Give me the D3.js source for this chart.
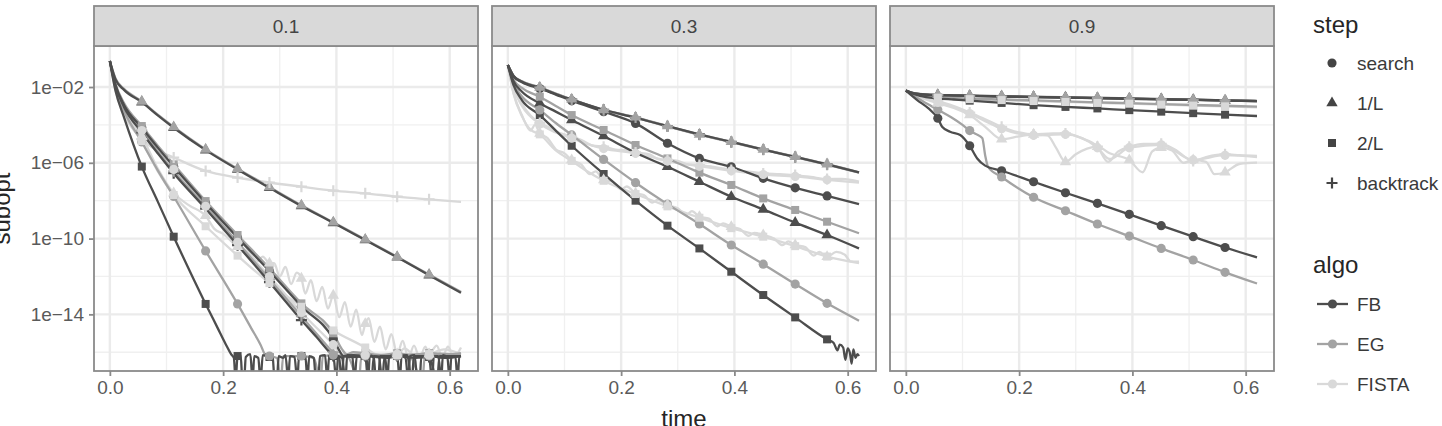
<!DOCTYPE html>
<html>
<head>
<meta charset="utf-8">
<script src="https://cdn.jsdelivr.net/npm/d3@7"></script>
<style>
  body { margin: 0; background: #fff; }
  svg text { font-family: "Liberation Sans", Arial, Helvetica, sans-serif; }
</style>
</head>
<body>
<div id="chart"></div>
<script>
// facets, legend levels, ticks
const FACETS = ["0.1", "0.3", "0.9"];
const ALGOS = ["FB", "EG", "FISTA"];
const STEPS = ["search", "1/L", "2/L", "backtrack"];
const ALGO_COLORS = ["#4d4d4d", "#a3a3a3", "#d9d9d9"];
const X_TICKS = [0, 0.2, 0.4, 0.6];
const X_MINOR = [0.1, 0.3, 0.5];
const Y_TICKS = [1e-2, 1e-6, 1e-10, 1e-14];
const Y_MINOR = [1e-4, 1e-8, 1e-12, 1e-16];

// common time grid, and times where a marker is drawn
const T_GRID = [0, 0.01, 0.025, 0.0564, 0.0846, 0.1127, 0.1691, 0.2255, 0.2818, 0.3382, 0.3945, 0.4509, 0.5073, 0.5636, 0.62];
const T_MARKS = [0.0564, 0.1127, 0.1691, 0.2255, 0.2818, 0.3382, 0.3945, 0.4509, 0.5073, 0.5636];

// values are log10(subopt); plain lists are on T_GRID, pair lists are [time, log10]
// ---- facet 0.1
const p1_FB_search = [[0,-0.63],[0.01,-1.9],[0.025,-2.95],[0.0564,-4.15],[0.0846,-5.2],[0.1127,-6.2],[0.1691,-8.12],[0.2255,-9.95],[0.2818,-11.72],[0.3382,-13.57],[0.3945,-15.3],[0.405,-15.9],[0.412,-16.2],[0.43,-16.25],[0.4509,-16.2],[0.462,-17.5],[0.466,-16.2],[0.49,-16.3],[0.5073,-16.2],[0.525,-16.15],[0.533,-17.5],[0.537,-16.2],[0.5636,-16.2],[0.59,-16.3],[0.62,-16.2]];
const p1_FB_1L = [-0.63, -1.6, -2.15, -2.8, -3.5, -4.15, -5.33, -6.35, -7.32, -8.28, -9.17, -10.08, -10.99, -11.93, -12.86];
const p1_FB_2L = [[0,-0.63],[0.01,-2.2],[0.025,-3.6],[0.0564,-6.2],[0.0846,-8.05],[0.1127,-9.9],[0.1691,-13.45],[0.19,-14.7],[0.205,-15.6],[0.214,-16.1],[0.219,-16.3],[0.222,-17.5],[0.2255,-16.2],[0.231,-16.15],[0.234,-17.5],[0.237,-17.5],[0.24,-16.25],[0.248,-16.1],[0.252,-17.5],[0.255,-16.2],[0.262,-16.3],[0.266,-17.5],[0.27,-16.15],[0.276,-16.2],[0.2818,-16.25],[0.287,-16.1],[0.291,-17.5],[0.295,-17.5],[0.298,-16.2],[0.306,-16.3],[0.31,-16.15],[0.315,-17.5],[0.318,-16.2],[0.326,-16.25],[0.331,-17.5],[0.334,-16.2],[0.3382,-16.2],[0.345,-16.15],[0.349,-17.5],[0.352,-16.2],[0.36,-16.3],[0.364,-17.5],[0.368,-17.5],[0.371,-16.2],[0.38,-16.15],[0.384,-17.5],[0.387,-16.25],[0.3945,-16.2],[0.4,-17.5],[0.403,-16.2],[0.41,-16.3],[0.416,-17.5],[0.419,-16.15],[0.428,-16.2],[0.432,-17.5],[0.436,-16.2],[0.444,-16.25],[0.4509,-16.2],[0.456,-17.5],[0.459,-16.15],[0.466,-16.3],[0.47,-17.5],[0.474,-17.5],[0.477,-16.2],[0.486,-16.2],[0.49,-17.5],[0.493,-16.25],[0.5,-16.15],[0.5073,-16.2],[0.512,-17.5],[0.515,-16.2],[0.522,-16.3],[0.527,-17.5],[0.53,-16.2],[0.538,-16.15],[0.543,-17.5],[0.547,-17.5],[0.55,-16.2],[0.5636,-16.25],[0.569,-17.5],[0.572,-16.2],[0.58,-16.2],[0.585,-17.5],[0.588,-16.15],[0.596,-16.3],[0.6,-17.5],[0.603,-16.2],[0.61,-16.2],[0.614,-17.5],[0.617,-16.2],[0.62,-16.2]];
const p1_FB_bt = [[0,-0.63],[0.01,-1.95],[0.025,-3.05],[0.0564,-4.4],[0.0846,-5.5],[0.1127,-6.55],[0.1691,-8.42],[0.2255,-10.35],[0.2818,-12.3],[0.3382,-14.3],[0.365,-15.2],[0.385,-15.9],[0.3945,-16.2],[0.405,-16.3],[0.409,-17.5],[0.413,-16.2],[0.43,-16.15],[0.4509,-16.2],[0.475,-16.25],[0.481,-17.5],[0.485,-16.2],[0.5073,-16.2],[0.54,-16.3],[0.5636,-16.25],[0.578,-17.5],[0.582,-16.2],[0.62,-16.2]];
const p1_EG_search = [[0,-0.63],[0.01,-2.05],[0.025,-3.25],[0.0564,-4.9],[0.0846,-6.4],[0.1127,-7.78],[0.1691,-10.65],[0.2255,-13.45],[0.25,-14.75],[0.266,-15.6],[0.275,-16.15],[0.2818,-16.2],[0.295,-16.3],[0.302,-17.5],[0.306,-16.2],[0.3382,-16.2],[0.36,-16.3],[0.372,-17.5],[0.376,-16.2],[0.3945,-16.15],[0.42,-16.25],[0.44,-17.5],[0.444,-16.2],[0.4509,-16.2],[0.48,-16.3],[0.5073,-16.2],[0.53,-16.25],[0.552,-17.5],[0.556,-16.2],[0.5636,-16.2],[0.59,-16.3],[0.62,-16.2]];
const p1_EG_1L = [-0.63, -1.55, -2.1, -2.76, -3.46, -4.11, -5.29, -6.31, -7.28, -8.24, -9.14, -10.05, -10.96, -11.9, -12.82];
const p1_EG_2L = [[0,-0.63],[0.01,-1.85],[0.025,-2.85],[0.0564,-4.06],[0.0846,-5.1],[0.1127,-6.08],[0.1691,-8.02],[0.2255,-9.81],[0.2818,-11.57],[0.3382,-13.42],[0.3945,-15.0],[0.41,-15.85],[0.418,-16.1],[0.43,-16.0],[0.4509,-16.05],[0.48,-16.15],[0.5073,-16.05],[0.53,-16.15],[0.5636,-16.05],[0.6,-16.1],[0.62,-16.05]];
const p1_EG_bt = [[0,-0.63],[0.01,-1.9],[0.025,-2.95],[0.0564,-4.3],[0.0846,-5.4],[0.1127,-6.45],[0.1691,-8.3],[0.2255,-10.2],[0.2818,-12.15],[0.3382,-14.1],[0.37,-15.2],[0.3945,-16.0],[0.402,-16.2],[0.4509,-16.1],[0.47,-16.2],[0.5073,-16.15],[0.5636,-16.1],[0.62,-16.15]];
const p1_FISTA_search = [[0,-0.63],[0.01,-1.95],[0.025,-3.0],[0.0564,-4.3],[0.0846,-5.35],[0.1127,-6.35],[0.1691,-8.3],[0.2255,-10.2],[0.2818,-12.0],[0.3382,-13.9],[0.3945,-15.6],[0.41,-16.1],[0.4509,-16.15],[0.5073,-16.1],[0.5636,-16.15],[0.62,-16.1]];
const p1_FISTA_1L = [[0,-0.63],[0.01,-2.1],[0.025,-3.3],[0.0564,-4.6],[0.0846,-6.3],[0.1127,-7.6],[0.14,-8.25],[0.1691,-8.8],[0.185,-9.5],[0.2,-9.75],[0.2255,-10.43],[0.245,-10.7],[0.26,-11.2],[0.27,-10.95],[0.2818,-11.3],[0.29,-11.3],[0.3,-12.0],[0.31,-11.5],[0.32,-12.4],[0.33,-11.8],[0.3382,-12.1],[0.345,-12.9],[0.355,-12.2],[0.365,-13.3],[0.375,-12.55],[0.385,-13.7],[0.3945,-13.0],[0.405,-14.15],[0.415,-13.35],[0.425,-14.65],[0.435,-13.75],[0.445,-15.1],[0.4509,-14.5],[0.457,-14.2],[0.467,-15.45],[0.477,-14.65],[0.487,-15.85],[0.497,-15.05],[0.5073,-16.1],[0.517,-15.4],[0.527,-16.3],[0.537,-15.65],[0.547,-16.3],[0.557,-15.7],[0.5636,-16.1],[0.577,-15.65],[0.587,-16.25],[0.597,-15.7],[0.607,-16.25],[0.62,-15.75]];
const p1_FISTA_2L = [[0,-0.63],[0.01,-2.2],[0.025,-3.45],[0.0564,-4.85],[0.0846,-6.45],[0.1127,-7.7],[0.1691,-9.35],[0.2255,-10.9],[0.2818,-12.35],[0.3382,-13.6],[0.3945,-14.85],[0.4509,-15.75],[0.47,-16.1],[0.5073,-16.15],[0.52,-15.8],[0.54,-16.2],[0.5636,-16.1],[0.59,-15.85],[0.62,-16.1]];
const p1_FISTA_bt = [-0.63, -2.0, -3.3, -4.75, -5.35, -5.72, -6.43, -6.78, -7.04, -7.26, -7.47, -7.61, -7.79, -7.93, -8.06];

// ---- facet 0.3
const p2_FB_search = [-0.84, -1.43, -1.75, -2.08, -2.4, -2.72, -3.3, -3.92, -4.97, -5.77, -6.21, -6.82, -7.32, -7.75, -8.18];
const p2_FB_1L = [-0.84, -1.7, -2.25, -2.86, -3.3, -3.74, -4.59, -5.47, -6.21, -7.0, -7.79, -8.46, -9.16, -9.81, -10.52];
const p2_FB_2L = [[0,-0.84],[0.01,-1.9],[0.025,-2.7],[0.0564,-3.48],[0.0846,-4.3],[0.1127,-5.1],[0.1691,-6.59],[0.2255,-8.0],[0.2818,-9.32],[0.3382,-10.52],[0.3945,-11.75],[0.4509,-12.98],[0.5073,-14.16],[0.5636,-15.32],[0.575,-15.5],[0.582,-15.9],[0.586,-15.6],[0.592,-15.75],[0.596,-16.4],[0.6,-15.8],[0.604,-16.05],[0.607,-16.6],[0.61,-15.85],[0.614,-16.3],[0.617,-16.1],[0.62,-16.2]];
const p2_FB_bt = [-0.84, -1.42, -1.72, -2.04, -2.37, -2.67, -3.2, -3.62, -4.07, -4.5, -4.9, -5.3, -5.69, -6.08, -6.5];
const p2_EG_search = [-0.84, -1.8, -2.5, -3.21, -3.9, -4.53, -5.82, -7.05, -8.18, -9.23, -10.34, -11.35, -12.4, -13.42, -14.34];
const p2_EG_1L = [-0.84, -1.4, -1.7, -2.02, -2.35, -2.65, -3.21, -3.6, -4.06, -4.5, -4.89, -5.29, -5.68, -6.07, -6.5];
const p2_EG_2L = [-0.84, -1.6, -2.05, -2.51, -3.0, -3.48, -4.27, -5.06, -5.77, -6.52, -7.17, -7.88, -8.49, -9.11, -9.72];
const p2_EG_bt = [-0.84, -1.41, -1.71, -2.03, -2.36, -2.66, -3.22, -3.61, -4.08, -4.52, -4.91, -5.31, -5.7, -6.1, -6.52];
const p2_FISTA_search = [[0,-0.84],[0.01,-2.05],[0.025,-3.0],[0.0564,-3.95],[0.0846,-4.4],[0.1127,-4.7],[0.14,-5.0],[0.1691,-5.25],[0.2255,-5.5],[0.2818,-5.9],[0.3382,-6.18],[0.3945,-6.42],[0.4509,-6.62],[0.5073,-6.72],[0.5636,-6.9],[0.62,-7.05]];
const p2_FISTA_1L = [[0,-0.84],[0.01,-2.3],[0.025,-3.5],[0.04,-4.3],[0.048,-4.0],[0.0564,-4.45],[0.07,-4.7],[0.085,-5.3],[0.1,-5.5],[0.1127,-5.85],[0.13,-6.1],[0.145,-6.6],[0.155,-6.45],[0.1691,-6.91],[0.185,-7.0],[0.2,-7.4],[0.21,-7.25],[0.2255,-7.61],[0.24,-7.7],[0.255,-8.1],[0.265,-7.95],[0.2818,-8.23],[0.3,-8.4],[0.315,-8.75],[0.325,-8.55],[0.3382,-8.85],[0.355,-8.95],[0.37,-9.35],[0.38,-9.2],[0.3945,-9.38],[0.41,-9.5],[0.425,-9.85],[0.435,-9.7],[0.4509,-9.81],[0.47,-10.0],[0.485,-10.35],[0.495,-10.15],[0.5073,-10.34],[0.525,-10.45],[0.54,-10.9],[0.55,-10.7],[0.5636,-10.96],[0.58,-10.7],[0.595,-10.85],[0.605,-11.2],[0.62,-11.22]];
const p2_FISTA_2L = [[0,-0.84],[0.01,-2.35],[0.025,-3.55],[0.04,-4.25],[0.0564,-4.5],[0.0846,-5.35],[0.1127,-5.9],[0.14,-6.45],[0.1691,-6.95],[0.2255,-7.65],[0.2818,-8.3],[0.3382,-8.9],[0.3945,-9.45],[0.4509,-9.9],[0.5073,-10.4],[0.5636,-10.95],[0.62,-11.3]];
const p2_FISTA_bt = [[0,-0.84],[0.01,-2.0],[0.025,-2.9],[0.04,-3.5],[0.0564,-3.9],[0.07,-4.1],[0.0846,-4.35],[0.1,-4.5],[0.1127,-4.62],[0.13,-4.8],[0.15,-5.1],[0.1691,-5.15],[0.19,-5.3],[0.21,-5.35],[0.2255,-5.45],[0.25,-5.55],[0.265,-5.8],[0.2818,-5.85],[0.3,-5.9],[0.32,-6.1],[0.3382,-6.12],[0.36,-6.2],[0.38,-6.3],[0.3945,-6.38],[0.42,-6.45],[0.4509,-6.56],[0.48,-6.6],[0.5073,-6.65],[0.535,-6.75],[0.5636,-6.86],[0.59,-6.85],[0.62,-7.0]];

// ---- facet 0.9
const p3_FB_search = [[0,-2.19],[0.02,-2.69],[0.04,-3.13],[0.0564,-3.65],[0.064,-4.1],[0.078,-4.36],[0.096,-4.53],[0.1127,-5.1],[0.126,-5.77],[0.14,-6.15],[0.1691,-6.42],[0.2255,-7.0],[0.2818,-7.58],[0.3382,-8.14],[0.3945,-8.72],[0.4509,-9.32],[0.5073,-9.9],[0.5636,-10.47],[0.62,-10.99]];
const p3_FB_1L = [-2.19, -2.3, -2.37, -2.42, -2.44, -2.46, -2.49, -2.52, -2.55, -2.58, -2.61, -2.64, -2.67, -2.71, -2.74];
const p3_FB_2L = [-2.19, -2.33, -2.47, -2.6, -2.66, -2.72, -2.84, -2.96, -3.05, -3.13, -3.22, -3.3, -3.38, -3.46, -3.53];
const p3_FB_bt = [-2.19, -2.31, -2.38, -2.43, -2.45, -2.47, -2.5, -2.53, -2.56, -2.59, -2.62, -2.65, -2.68, -2.72, -2.75];
const p3_EG_search = [[0,-2.19],[0.03,-2.75],[0.0564,-3.2],[0.08,-3.6],[0.1,-4.0],[0.1127,-4.3],[0.125,-4.5],[0.135,-4.7],[0.14,-5.6],[0.145,-6.2],[0.1691,-6.75],[0.2255,-7.82],[0.2818,-8.53],[0.3382,-9.23],[0.3945,-9.87],[0.4509,-10.52],[0.5073,-11.13],[0.5636,-11.78],[0.62,-12.37]];
const p3_EG_1L = [-2.19, -2.29, -2.36, -2.41, -2.43, -2.45, -2.48, -2.51, -2.54, -2.57, -2.6, -2.63, -2.67, -2.7, -2.73];
const p3_EG_2L = [-2.19, -2.32, -2.42, -2.53, -2.57, -2.61, -2.66, -2.71, -2.76, -2.81, -2.85, -2.9, -2.95, -2.99, -3.04];
const p3_EG_bt = [-2.19, -2.3, -2.37, -2.42, -2.45, -2.47, -2.5, -2.53, -2.56, -2.59, -2.62, -2.65, -2.68, -2.71, -2.74];
const p3_FISTA_search = [[0,-2.19],[0.03,-2.55],[0.0564,-2.8],[0.0846,-3.05],[0.1127,-3.4],[0.14,-3.8],[0.1691,-4.2],[0.2255,-4.55],[0.2818,-4.5],[0.3382,-5.2],[0.36,-5.8],[0.3945,-5.2],[0.4509,-5.05],[0.5073,-5.85],[0.5636,-5.6],[0.62,-5.7]];
const p3_FISTA_1L = [[0,-2.19],[0.03,-2.6],[0.0564,-2.85],[0.0846,-3.1],[0.1127,-3.48],[0.14,-4.1],[0.1691,-4.75],[0.2,-4.6],[0.2255,-4.5],[0.25,-4.55],[0.265,-5.2],[0.2818,-5.95],[0.3,-5.55],[0.32,-5.25],[0.3382,-5.15],[0.36,-5.5],[0.3945,-5.85],[0.418,-6.5],[0.435,-5.4],[0.4509,-5.2],[0.47,-5.35],[0.49,-6.0],[0.5073,-5.85],[0.53,-5.95],[0.545,-6.6],[0.5636,-6.5],[0.59,-6.05],[0.62,-5.99]];
const p3_FISTA_2L = [-2.19, -2.33, -2.44, -2.56, -2.6, -2.64, -2.69, -2.74, -2.79, -2.84, -2.88, -2.93, -2.98, -3.02, -3.07];
const p3_FISTA_bt = [[0,-2.19],[0.03,-2.5],[0.0564,-2.75],[0.0846,-3.0],[0.1127,-3.35],[0.14,-3.7],[0.1691,-4.1],[0.2,-4.4],[0.2255,-4.5],[0.26,-4.45],[0.2818,-4.45],[0.31,-4.7],[0.3382,-5.15],[0.357,-5.95],[0.375,-5.4],[0.3945,-5.15],[0.42,-5.0],[0.4509,-5.0],[0.475,-5.3],[0.5073,-5.9],[0.53,-5.7],[0.5636,-5.55],[0.59,-5.6],[0.62,-5.64]];

// table: facet, algo, step, values
const SERIES = [
  ["0.1", "FB", "search", p1_FB_search], ["0.1", "FB", "1/L", p1_FB_1L], ["0.1", "FB", "2/L", p1_FB_2L], ["0.1", "FB", "backtrack", p1_FB_bt],
  ["0.1", "EG", "search", p1_EG_search], ["0.1", "EG", "1/L", p1_EG_1L], ["0.1", "EG", "2/L", p1_EG_2L], ["0.1", "EG", "backtrack", p1_EG_bt],
  ["0.1", "FISTA", "search", p1_FISTA_search], ["0.1", "FISTA", "1/L", p1_FISTA_1L], ["0.1", "FISTA", "2/L", p1_FISTA_2L], ["0.1", "FISTA", "backtrack", p1_FISTA_bt],
  ["0.3", "FB", "search", p2_FB_search], ["0.3", "FB", "1/L", p2_FB_1L], ["0.3", "FB", "2/L", p2_FB_2L], ["0.3", "FB", "backtrack", p2_FB_bt],
  ["0.3", "EG", "search", p2_EG_search], ["0.3", "EG", "1/L", p2_EG_1L], ["0.3", "EG", "2/L", p2_EG_2L], ["0.3", "EG", "backtrack", p2_EG_bt],
  ["0.3", "FISTA", "search", p2_FISTA_search], ["0.3", "FISTA", "1/L", p2_FISTA_1L], ["0.3", "FISTA", "2/L", p2_FISTA_2L], ["0.3", "FISTA", "backtrack", p2_FISTA_bt],
  ["0.9", "FB", "search", p3_FB_search], ["0.9", "FB", "1/L", p3_FB_1L], ["0.9", "FB", "2/L", p3_FB_2L], ["0.9", "FB", "backtrack", p3_FB_bt],
  ["0.9", "EG", "search", p3_EG_search], ["0.9", "EG", "1/L", p3_EG_1L], ["0.9", "EG", "2/L", p3_EG_2L], ["0.9", "EG", "backtrack", p3_EG_bt],
  ["0.9", "FISTA", "search", p3_FISTA_search], ["0.9", "FISTA", "1/L", p3_FISTA_1L], ["0.9", "FISTA", "2/L", p3_FISTA_2L], ["0.9", "FISTA", "backtrack", p3_FISTA_bt]
].map(r => ({
  facet: r[0], algo: r[1], step: r[2],
  pts: typeof r[3][0] === "number" ? r[3].map((v, i) => [T_GRID[i], v]) : r[3]
}));

// layout
const W = 1442, H = 426;
const panelW = 384, panelTop = 46, panelBottom = 371, stripTop = 6;
const panelLefts = [94, 492, 890];

const svg = d3.select("#chart").append("svg").attr("width", W).attr("height", H);

const x = d3.scaleLinear().domain([-0.028, 0.65]).range([0, panelW]);
const y = d3.scaleLog().domain([Math.pow(10, -16.99), Math.pow(10, 0.165)]).range([panelBottom, panelTop]);
const color = d3.scaleOrdinal().domain(ALGOS).range(ALGO_COLORS);

const line = d3.line()
  .x(d => x(d[0]))
  .y(d => y(Math.pow(10, d[1])))
  .curve(d3.curveMonotoneX);

// marker shapes like ggplot 16 / 17 / 15 / 3
function drawShape(sel, step, fill) {
  if (step === "backtrack") {
    sel.append("path").attr("d", "M-5.5,0H5.5M0,-5.5V5.5")
      .attr("stroke", fill).attr("stroke-width", 2.2).attr("fill", "none");
  } else {
    const type = step === "search" ? d3.symbolCircle : step === "1/L" ? d3.symbolTriangle : d3.symbolSquare;
    const size = step === "search" ? 66 : step === "1/L" ? 56 : 64;
    sel.append("path").attr("d", d3.symbol(type, size)()).attr("fill", fill);
  }
}

const isMark = t => T_MARKS.some(m => Math.abs(m - t) < 0.0006);

FACETS.forEach((facet, i) => {
  const g = svg.append("g").attr("transform", "translate(" + panelLefts[i] + ",0)");

  g.append("rect").attr("x", 0).attr("y", panelTop).attr("width", panelW)
    .attr("height", panelBottom - panelTop).attr("fill", "#fff");

  // grid
  g.selectAll(".xminor").data(X_MINOR).enter().append("line")
    .attr("x1", d => x(d)).attr("x2", d => x(d)).attr("y1", panelTop).attr("y2", panelBottom)
    .attr("stroke", "#f0f0f0").attr("stroke-width", 1.3);
  g.selectAll(".yminor").data(Y_MINOR).enter().append("line")
    .attr("x1", 0).attr("x2", panelW).attr("y1", d => y(d)).attr("y2", d => y(d))
    .attr("stroke", "#f0f0f0").attr("stroke-width", 1.3);
  g.selectAll(".xmajor").data(X_TICKS).enter().append("line")
    .attr("x1", d => x(d)).attr("x2", d => x(d)).attr("y1", panelTop).attr("y2", panelBottom)
    .attr("stroke", "#ebebeb").attr("stroke-width", 2.4);
  g.selectAll(".ymajor").data(Y_TICKS).enter().append("line")
    .attr("x1", 0).attr("x2", panelW).attr("y1", d => y(d)).attr("y2", d => y(d))
    .attr("stroke", "#ebebeb").attr("stroke-width", 2.4);

  // data, clipped to the panel
  g.append("clipPath").attr("id", "clip" + i).append("rect")
    .attr("x", 0).attr("y", panelTop).attr("width", panelW).attr("height", panelBottom - panelTop);
  const data = g.append("g").attr("clip-path", "url(#clip" + i + ")");
  const rows = SERIES.filter(s => s.facet === facet);

  // lines: light first so the dark ones sit on top
  ["FISTA", "EG", "FB"].forEach(a => {
    rows.filter(s => s.algo === a).forEach(s => {
      data.append("path").attr("d", line(s.pts)).attr("fill", "none")
        .attr("stroke", color(a)).attr("stroke-width", 2.3).attr("stroke-linejoin", "round");
    });
  });
  // points
  ["FB", "EG", "FISTA"].forEach(a => {
    rows.filter(s => s.algo === a).forEach(s => {
      s.pts.filter(d => isMark(d[0])).forEach(d => {
        const m = data.append("g")
          .attr("transform", "translate(" + x(d[0]) + "," + y(Math.pow(10, d[1])) + ")");
        drawShape(m, s.step, color(a));
      });
    });
  });

  // border
  g.append("rect").attr("x", 0).attr("y", panelTop).attr("width", panelW)
    .attr("height", panelBottom - panelTop).attr("fill", "none")
    .attr("stroke", "#8a8a8a").attr("stroke-width", 1.8);

  // strip
  g.append("rect").attr("x", 0).attr("y", stripTop).attr("width", panelW)
    .attr("height", panelTop - stripTop).attr("fill", "#d9d9d9")
    .attr("stroke", "#8a8a8a").attr("stroke-width", 1.8);
  g.append("text").attr("x", panelW / 2).attr("y", 33).attr("text-anchor", "middle")
    .attr("font-size", "19px").attr("fill", "#444").text(facet);

  // x axis
  const xa = g.append("g").attr("transform", "translate(0," + panelBottom + ")")
    .call(d3.axisBottom(x).tickValues(X_TICKS).tickFormat(d3.format(".1f")).tickSize(5).tickPadding(5));
  xa.select(".domain").remove();
  xa.selectAll("line").attr("stroke", "#8a8a8a").attr("stroke-width", 1.8);
  xa.selectAll("text").attr("font-size", "19px").attr("fill", "#5a5a5a")
    .style("font-family", "'Liberation Sans', Arial, sans-serif");

  if (i === 0) {
    const ya = g.append("g")
      .call(d3.axisLeft(y).tickValues(Y_TICKS)
        .tickFormat(d => "1e\u2212" + String(-Math.round(Math.log10(d))).padStart(2, "0"))
        .tickSize(5).tickPadding(5));
    ya.select(".domain").remove();
    ya.selectAll("line").attr("stroke", "#8a8a8a").attr("stroke-width", 1.8);
    ya.selectAll("text").attr("font-size", "19px").attr("fill", "#5a5a5a")
      .style("font-family", "'Liberation Sans', Arial, sans-serif");
  }
});

// axis titles (cut at the canvas edge, as in the source figure)
svg.append("text").attr("transform", "translate(10," + ((panelTop + panelBottom) / 2) + ") rotate(-90)")
  .attr("text-anchor", "middle").attr("font-size", "24px").attr("fill", "#262626").text("subopt");
svg.append("text").attr("x", 684).attr("y", 427).attr("text-anchor", "middle")
  .attr("font-size", "24px").attr("fill", "#262626").text("time");

// legends
const lg = svg.append("g");
lg.append("text").attr("x", 1313).attr("y", 33).attr("font-size", "24px").attr("fill", "#262626").text("step");
const STEP_Y = [63, 103, 143, 183];
STEPS.forEach((s, k) => {
  const m = lg.append("g").attr("transform", "translate(1332," + STEP_Y[k] + ")");
  drawShape(m, s, "#444");
  lg.append("text").attr("x", 1357).attr("y", STEP_Y[k] + 6.5).attr("font-size", "19px")
    .attr("fill", "#3a3a3a").text(s);
});
lg.append("text").attr("x", 1313).attr("y", 273).attr("font-size", "24px").attr("fill", "#262626").text("algo");
const ALGO_Y = [304, 344, 384];
ALGOS.forEach((a, k) => {
  lg.append("line").attr("x1", 1317).attr("x2", 1348).attr("y1", ALGO_Y[k]).attr("y2", ALGO_Y[k])
    .attr("stroke", color(a)).attr("stroke-width", 2.3);
  lg.append("circle").attr("cx", 1332.5).attr("cy", ALGO_Y[k]).attr("r", 4.6).attr("fill", color(a));
  lg.append("text").attr("x", 1357).attr("y", ALGO_Y[k] + 6.5).attr("font-size", "19px")
    .attr("fill", "#3a3a3a").text(a);
});
</script>
</body>
</html>
